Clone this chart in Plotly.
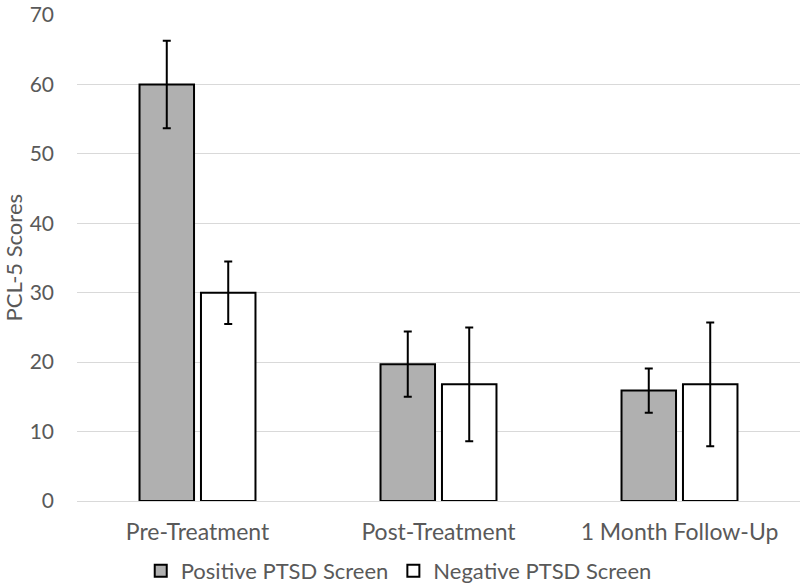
import plotly.graph_objects as go

categories = ["Pre-Treatment", "Post-Treatment", "1 Month Follow-Up"]
positive = [60.0, 19.7, 15.9]
positive_err = [6.3, 4.7, 3.2]
negative = [30.0, 16.8, 16.8]
negative_err = [4.5, 8.2, 8.9]
y_ticks = [0, 10, 20, 30, 40, 50, 60, 70]

font_family = "Lato, 'Open Sans', sans-serif"
text_color = "#595959"

fig = go.Figure()
fig.add_trace(go.Bar(
    name="Positive PTSD Screen", x=categories, y=positive,
    marker=dict(color="#b0b0b0", line=dict(color="black", width=2)),
    error_y=dict(type="data", array=positive_err, visible=True,
                 color="black", thickness=2, width=4),
))
fig.add_trace(go.Bar(
    name="Negative PTSD Screen", x=categories, y=negative,
    marker=dict(color="white", line=dict(color="black", width=2)),
    error_y=dict(type="data", array=negative_err, visible=True,
                 color="black", thickness=2, width=4),
))

fig.update_layout(
    width=807, height=585,
    margin=dict(l=77, r=7, t=15, b=84, autoexpand=False),
    paper_bgcolor="white", plot_bgcolor="white",
    barmode="group", bargap=0.49, bargroupgap=0.113,
    font=dict(family=font_family, size=21, color=text_color),
    showlegend=True,
    legend=dict(orientation="h", x=0.445, xanchor="center", y=-0.144, yanchor="middle",
                font=dict(size=22, color=text_color), itemwidth=30,
                traceorder="normal", tracegroupgap=0),
    xaxis=dict(showgrid=False, showline=False, ticks="", automargin=False,
               ticklabelstandoff=15, tickfont=dict(size=23, color=text_color)),
    yaxis=dict(range=[0, 70], tickvals=y_ticks, showgrid=True, gridcolor="#d9d9d9",
               gridwidth=1, zeroline=True, zerolinecolor="#d9d9d9", zerolinewidth=1,
               showline=False, ticks="", ticklen=0, automargin=False,
               ticklabelstandoff=22,
               tickfont=dict(size=21, color=text_color)),
    annotations=[dict(text="PCL-5 Scores", xref="paper", yref="paper",
                      x=-0.0892, y=0.5, xanchor="center", yanchor="middle",
                      textangle=-90, showarrow=False,
                      font=dict(size=22, color=text_color))],
)

fig.write_html("out.html", config={"displayModeBar": False},
               post_script="document.body.style.margin='0';")
